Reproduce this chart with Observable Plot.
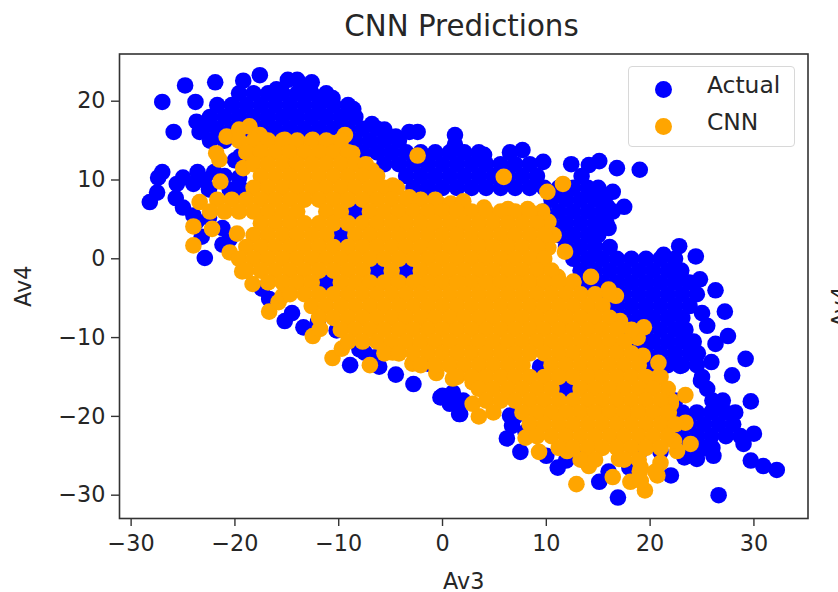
<!DOCTYPE html>
<html><head><meta charset="utf-8">
<script src="https://cdn.jsdelivr.net/npm/d3@7"></script>
<script src="https://cdn.jsdelivr.net/npm/@observablehq/plot@0.6"></script>
<style>
html,body{margin:0;padding:0;background:#fff;overflow:hidden;width:838px;height:592px;font-family:"DejaVu Sans",sans-serif;color:#262626}
#wrap{position:relative;width:838px;height:592px}
#title{position:absolute;left:118px;width:687px;top:8px;text-align:center;font-size:29.3px;line-height:36px;color:#262626}
#legend{position:absolute;left:628px;top:66px;width:165px;height:79px;border:1.5px solid #d8d8d8;border-radius:4px;background:rgba(255,255,255,.8);font-size:23.4px}
#legend i{position:absolute;left:26px;width:17px;height:17px;border-radius:50%}
#legend span{position:absolute;left:78px;line-height:26px}
</style></head><body>
<div id="wrap"><div id="title">CNN Predictions</div><div id="chart"></div>
<div id="legend"><i style="top:14px;background:#0000ff"></i><span style="top:5px">Actual</span><i style="top:51px;background:#ffa500"></i><span style="top:42px">CNN</span></div></div>
<script>
const xTicks=[-30,-20,-10,0,10,20,30];
const yTicks=[-30,-20,-10,0,10,20];
const blueEdge=[[-27,19.9],[-24.8,22],[-21.9,22.4],[-19.2,22.6],[-17.6,23.3],[-23.8,19.9],[-25.9,16.1],[-27,11],[-27.4,10.3],[-27.5,8.4],[-28.2,7.2],[-25.7,7.7],[-25,6.5],[-25,10.3],[-25.6,9.5],[-14.9,22.7],[-14,22.7],[-12.6,22.4],[-16,21.5],[-13,21.5],[-10.6,20.4],[-8.6,19],[-6.8,17.1],[-5.6,16.4],[-3.2,16.1],[-2.4,16.1],[-4.5,15.5],[1.2,15.7],[1.2,14.5],[4,13.2],[6.5,13.5],[7.7,13.8],[9.7,12.3],[12.4,12],[13.4,10.5],[14.1,11.9],[15.1,12.4],[16.8,11.5],[19,11.3],[16.4,8.5],[17.5,6.6],[15.9,6.6],[16,3.9],[22.8,1.6],[24.4,.3],[21.3,.5],[24.8,-2.6],[26.3,-4],[22.9,-2],[27.2,-6.7],[25,-6.9],[25.5,-8.5],[27.5,-9.8],[26.3,-10.8],[29.2,-12.7],[27.9,-14.8],[25.9,-13.1],[22.9,-13.6],[24.9,-15.5],[29.7,-18.1],[28.2,-19.5],[26.8,-18.7],[30,-22.2],[29,-23.5],[29.7,-25.6],[30.9,-26.3],[32.2,-26.8],[26.6,-30],[26.1,-25],[24.5,-25.4],[23.3,-25.2],[22,-27.5],[16.9,-30.3],[15.1,-28.3],[11.1,-26.5],[11.9,-25.6],[7.5,-24.5],[6.2,-22.8],[6.7,-21.2],[6.5,-19.9],[1.7,-19.7],[-.2,-17.6],[1.6,-19.7],[0,-17.4],[.7,-18.4],[-2.8,-15.9],[-4.5,-14.7],[-6.1,-13.7],[-8.9,-13.5],[-7.5,-11.9],[-13.4,-8.7],[-15.2,-7.9],[-14.5,-6.9],[-16.7,-5.1],[-17.4,-3.8],[-10.2,-9.1],[-1.4,-13.3],[-22.9,.1],[-23.2,2.8],[-21.2,1.8],[-23.7,4.7],[-21.2,3.9],[-20.5,2.5],[-24,5.5],[-22.5,5.2],[-19.6,10.3],[-23.6,11],[-23.4,16.1],[-23.7,17.4],[-20,12.5],[-19.5,13],[-24,9.5],[-23,10],[-22,11],[-21,10.5],[-22.5,8.8],[-20.5,8.8],[-19.5,9],[-8,-11.5],[-6.5,-12.5],[-12,-8],[1,-17],[2,-18],[8,-22],[7,-20],[10,-25],[13,-25],[19,-24.5],[21,-24.5],[16,-27],[18,-26.5],[-8.4,6],[-9.8,3],[-6.3,-1.5],[-11.2,-3],[-3.5,-1.5],[11.9,-16.5],[9.4,-13.7]];
const blueCore=[
[21,-19.6,-18.2,-16.8,-15.4,-14,-12.6,-11.2],
[19.5,-21.7,-20.3,-18.9,-17.5,-16.1,-14.7,-13.3,-11.9,-10.5,-9.1],
[18,-22.4,-21,-19.6,-18.2,-16.8,-15.4,-14,-12.6,-11.2,-9.8,-8.4],
[16.5,-23.1,-21.7,-20.3,-18.9,-17.5,-16.1,-14.7,-13.3,-11.9,-10.5,-9.1,-7.7,-6.3],
[15,-22.4,-21,-8.4,-7,-5.6,-4.2],
[13.5,-7.7,-6.3,-4.9,-3.5,-2.1,-.7,.7,2.1,3.5],
[12,-5.6,-4.2,-2.8,-1.4,0,1.4,2.8,4.2,5.6,7,8.4],
[10.5,-3.5,-2.1,-.7,.7,2.1,3.5,4.9,6.3,7.7,9.1],
[9,-2.8,-1.4,0,1.4,2.8,4.2,5.6,7,8.4,9.8,11.2,12.6,14,15],
[7.5,10.5,11.9,13.3,14.7,15.6],
[6,9.8,11.2,12.6,14,15.4,16.4],
[4.5,10.5,11.9,13.3,14.7,15.8],
[3,11.2,12.6,14,15],
[1.5,11.9,13.3,14.7,16.1],
[0,12.6,14,15.4,16.8,18.2,19.6,21,22.4],
[-1.5,13.3,14.7,16.1,17.5,18.9,20.3,21.7,23],
[-3,14,15.4,16.8,18.2,19.6,21,22.4,23.8],
[-4.5,16.1,17.5,18.9,20.3,21.7,23.1,24.5],
[-6,16.8,18.2,19.6,21,22.4,23.8],
[-7.5,17.5,18.9,20.3,21.7,23.1],
[-9,18.2,19.6,21,22.4,23.4],
[-10.5,18.9,20.3,21.7,23.1,24.2],
[-12,19.6,21,22.4,23.8,24.6],
[-13.5,20.3,21.7,23.1,24.5],
[-15,25],
[-16.5,25.5],
[-18,22.4,26,27],
[-19.5,23.1,24.5,25.9,27.3],
[-21,23.8,25.2,26.6,28],
[-22.5,23.1,24.5,25.9,27.3,28.7],
[-24,23.8,25.2,26]
];
const orangeEdge=[[-21.5,12.6],[-21.8,13.4],[-21.4,9.8],[-23.4,7.2],[-24,4.1],[-22.2,3.8],[-24,1.7],[-19.8,3.2],[-20.5,.8],[-19.3,-1.6],[-18.6,16.8],[-20.8,15.5],[-19.6,16.4],[-17.6,15.7],[-15.2,15.1],[-12.5,15.1],[-9.4,15.7],[-10.6,14.7],[-8.7,13.4],[-6.8,11.2],[-4.8,9.3],[-3.2,7.8],[-19.2,11.5],[-2.4,13.1],[-.3,6.9],[1.9,7],[.8,7],[2,7.3],[4,6.5],[5.9,10.4],[6.3,6.3],[8.2,6.3],[10.1,8.5],[11.6,9.5],[9.6,6],[10.2,4.7],[10.7,3],[10.2,1.4],[11.8,.9],[9.4,-.4],[11.1,-2.3],[14.3,-2.3],[12.6,-2.9],[16,-3.9],[16.7,-4.7],[17.1,-7.9],[19.4,-8.7],[18.8,-10],[19.3,-12.3],[20.8,-13.2],[21,-15],[20.7,-15.1],[21.7,-16.5],[23.4,-17.3],[22,-18],[22,-18.4],[21.8,-19.5],[21.8,-21],[23.4,-20.8],[23.9,-23.5],[22.6,-24.4],[22.3,-23.1],[21,-25.9],[20.7,-27.5],[19.5,-29.4],[18.1,-28.3],[19.1,-28.2],[16.4,-27.7],[12.9,-28.6],[14.1,-26.3],[17,-25.4],[19.1,-26.5],[9.3,-24.5],[8,-22.7],[12,-24.4],[3.5,-20],[2.9,-18.4],[2.9,-15.7],[1,-15.2],[-.6,-14.5],[-2.9,-13.3],[-7,-13.5],[-10.6,-12.6],[-9.7,-11.4],[-12.5,-9.8],[-11.8,-8.9],[-16.7,-6.7],[-15.8,-5.5],[-15.4,-4.7],[-18.3,-3.2],[-4.8,-11.9]];
const orangeCore=[
[15,-19.6,-18.2,-16.8,-15.4,-14,-12.6,-11.2,-9.8],
[13.5,-18.9,-17.5,-16.1,-14.7,-13.3,-11.9,-10.5,-9.1],
[12,-18.2,-16.8,-15.4,-14,-12.6,-11.2,-9.8,-8.4,-7.4],
[10.5,-17.5,-16.1,-14.7,-13.3,-11.9,-10.5,-9.1,-7.7,-6.3],
[9,-18.2,-16.8,-15.4,-14,-12.6,-11.2,-9.8,-8.4,-7,-5.6,-4.4],
[7.5,-21.7,-20.3,-18.9,-17.5,-16.1,-14.7,-13.3,-11.9,-10.5,-9.1,-7.7,-6.3,-4.9,-3.5,-2.1,-.7],
[6,-22.4,-21,-19.6,-18.2,-16.8,-15.4,-14,-11.2,-9.8,-7,-5.6,-4.2,-2.8,-1.4,0,1.4,2.8,4.2,5.6,7,8.4],
[4.5,-17.5,-16.1,-14.7,-13.3,-11.9,-10.5,-9.1,-7.7,-6.3,-4.9,-3.5,-2.1,-.7,.7,2.1,3.5,4.9,6.3,7.7,9.1],
[3,-18.2,-16.8,-15.4,-14,-12.6,-11.2,-8.4,-7,-5.6,-4.2,-2.8,-1.4,0,1.4,2.8,4.2,5.6,7,8.4,9.8],
[1.5,-18.9,-17.5,-16.1,-14.7,-13.3,-11.9,-10.5,-9.1,-7.7,-6.3,-4.9,-3.5,-2.1,-.7,.7,2.1,3.5,4.9,6.3,7.7,9.1],
[0,-19.6,-18.2,-16.8,-15.4,-14,-12.6,-11.2,-9.8,-8.4,-7,-5.6,-4.2,-2.8,-1.4,0,1.4,2.8,4.2,5.6,7,8.4,9.8],
[-1.5,-18.9,-17.5,-16.1,-14.7,-13.3,-11.9,-10.5,-9.1,-7.7,-4.9,-2.1,-.7,.7,2.1,3.5,4.9,6.3,7.7,9.1,10.5],
[-3,-16.8,-15.4,-14,-12.6,-9.8,-8.4,-7,-5.6,-4.2,-2.8,-1.4,0,1.4,2.8,4.2,5.6,7,8.4,9.8,11.2,12.6],
[-4.5,-14.7,-13.3,-11.9,-10.5,-9.1,-7.7,-6.3,-4.9,-3.5,-2.1,-.7,.7,2.1,3.5,4.9,6.3,7.7,9.1,10.5,11.9,13.3,14.7,16.1],
[-6,-12.6,-11.2,-9.8,-8.4,-7,-5.6,-4.2,-2.8,-1.4,0,1.4,2.8,4.2,5.6,7,8.4,9.8,11.2,12.6,14,15.4],
[-7.5,-11.9,-10.5,-9.1,-7.7,-6.3,-4.9,-3.5,-2.1,-.7,.7,2.1,3.5,4.9,6.3,7.7,9.1,10.5,11.9,13.3,14.7,16.1],
[-9,-9.8,-8.4,-7,-5.6,-4.2,-2.8,-1.4,0,1.4,2.8,4.2,5.6,7,8.4,9.8,11.2,12.6,14,15.4,16.8,18.2],
[-10.5,-9.1,-7.7,-6.3,-4.9,-3.5,-2.1,-.7,.7,2.1,3.5,4.9,6.3,7.7,9.1,10.5,11.9,13.3,14.7,16.1,17.5],
[-12,-5.6,-4.2,-2.8,-1.4,0,1.4,2.8,4.2,5.6,7,8.4,9.8,11.2,12.6,14,15.4,16.8,18.2],
[-13.5,-2.1,-.7,.7,2.1,3.5,4.9,6.3,7.7,10.5,11.9,13.3,14.7,16.1,17.5,18.9],
[-15,1.4,2.8,4.2,5.6,7,8.4,9.8,11.2,12.6,14,15.4,16.8,18.2,19.6],
[-16.5,3.5,4.9,6.3,7.7,9.1,10.5,13.3,14.7,16.1,17.5,18.9,20.3],
[-18,4.2,5.6,7,8.4,9.8,11.2,12.6,14,15.4,16.8,18.2,19.6,21],
[-19.5,4.9,7.7,9.1,10.5,11.9,13.3,14.7,16.1,17.5,18.9,20.3,21.7],
[-21,8.4,9.8,11.2,12.6,14,15.4,16.8,18.2,19.6,21,22.4],
[-22.5,9.1,10.5,11.9,13.3,14.7,16.1,17.5,18.9,20.3,21.7],
[-24,11.2,12.6,14,15.4,16.8,18.2,19.6,21],
[-25.5,13.3,14.7,17.5,18.9],
[-27,19,20.5]
];
const fromRows=rows=>rows.flatMap(([y,...xs])=>xs.map(x=>[x,y]));
const actual=[...blueEdge,...fromRows(blueCore)];
const cnn=[...orangeEdge,...fromRows(orangeCore)];
const chart=Plot.plot({
  width:838,height:592,marginLeft:119,marginRight:30.5,marginTop:53.5,marginBottom:74,
  style:{fontFamily:"'DejaVu Sans',sans-serif",fontSize:"22.3px",color:"#262626",background:"#fff",overflow:"visible"},
  x:{domain:[-31.12,35.21]},
  y:{domain:[-32.96,25.99]},
  marks:[
    Plot.dot(actual,{x:d=>d[0],y:d=>d[1],r:8.3,fill:"#0000ff"}),
    Plot.dot(cnn,{x:d=>d[0],y:d=>d[1],r:8.3,fill:"#ffa500"}),
    Plot.frame({stroke:"#333",strokeWidth:1.6}),
    Plot.axisX({ticks:xTicks,tickSize:8,tickPadding:9,strokeWidth:1.4,tickFormat:d3.format("d"),label:"Av3",labelAnchor:"center",labelArrow:"none",labelOffset:70,stroke:"#333"}),
    Plot.axisY({ticks:yTicks,tickSize:8,tickPadding:6,strokeWidth:1.4,tickFormat:d3.format("d"),label:"Av4",labelAnchor:"center",labelArrow:"none",labelOffset:104,stroke:"#333"}),
    Plot.text(["Av4"],{frameAnchor:"right",dx:33,rotate:-90,fill:"#262626",fontSize:22.3})
  ]
});
document.getElementById("chart").appendChild(chart);
</script></body></html>
